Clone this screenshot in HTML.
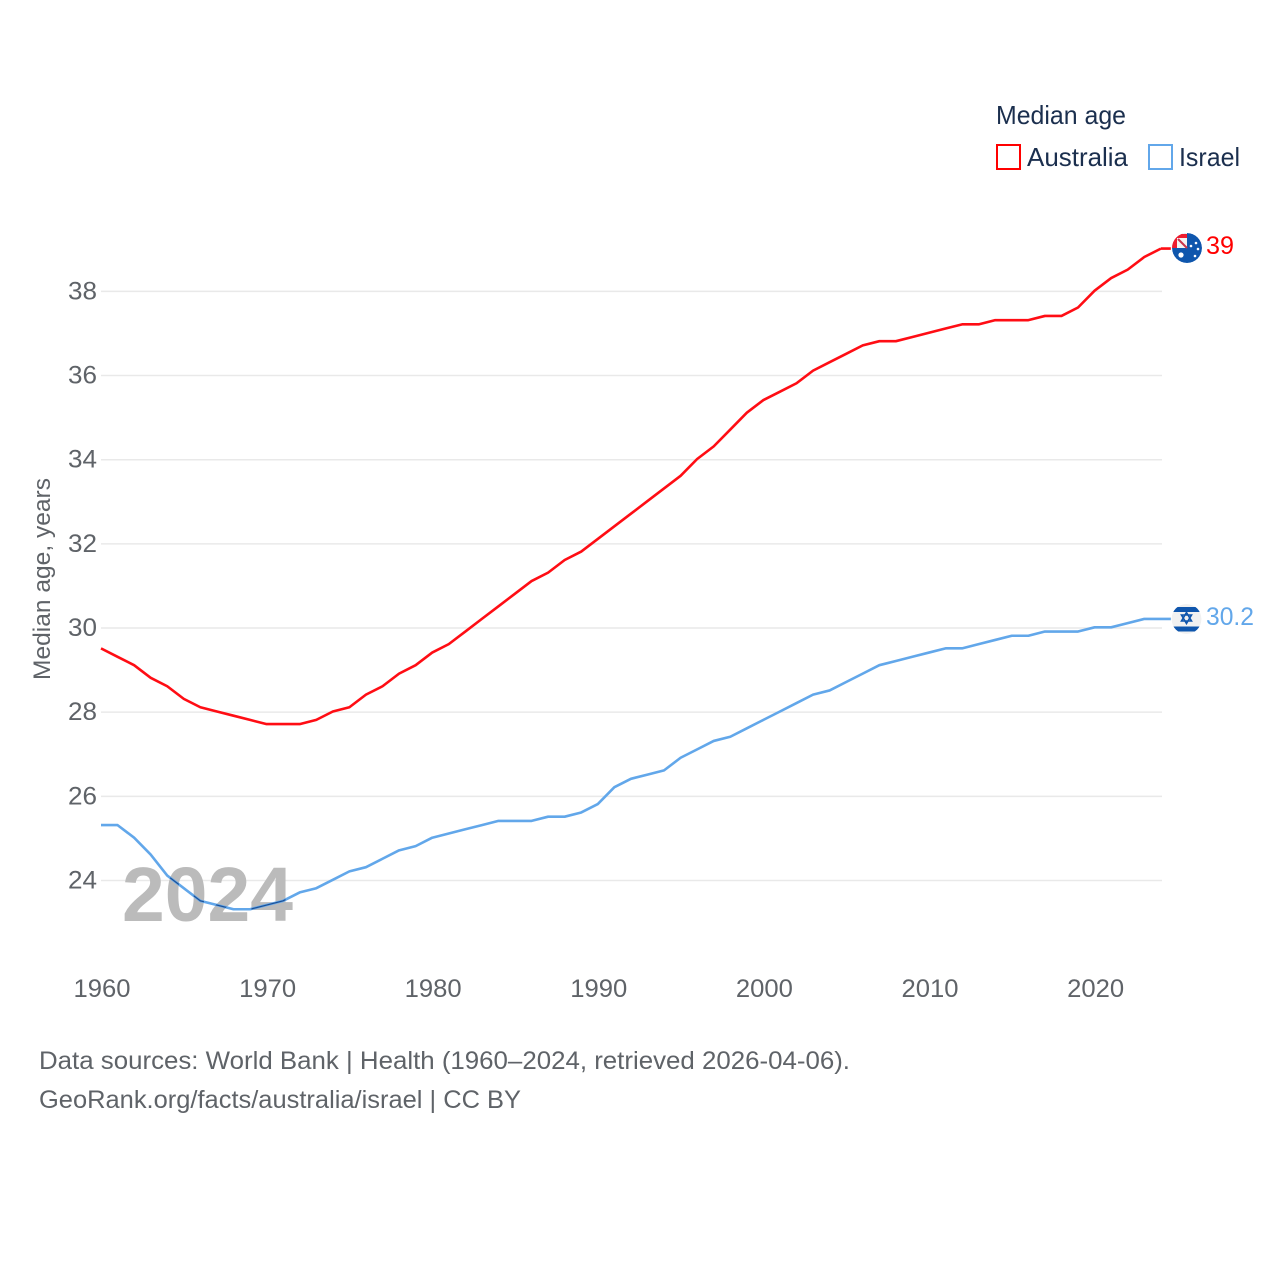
<!DOCTYPE html>
<html lang="en">
<head>
<meta charset="utf-8">
<title>Median age: Australia and Israel</title>
<style>
html,body{margin:0;padding:0;background:#fff;width:1280px;height:1280px;overflow:hidden}
svg{display:block}
text{font-family:"Liberation Sans",sans-serif}
.tick{font-size:25px;fill:#5f6368}
.foot{font-size:25px;fill:#5f6368}
.leg{font-size:26px;fill:#1b2f4e}
</style>
</head>
<body>
<svg id="chart" width="1280" height="1280" viewBox="0 0 1280 1280" xmlns="http://www.w3.org/2000/svg">
  <defs>
    <clipPath id="flag-clip-au"><circle cx="1187" cy="248" r="15"/></clipPath>
    <clipPath id="flag-clip-il"><circle cx="1186.5" cy="619" r="15"/></clipPath>
    <clipPath id="year-clip"><text x="122" y="921" font-size="77" font-weight="700" textLength="171" lengthAdjust="spacingAndGlyphs">2024</text></clipPath>
  </defs>
  <g id="grid"></g>
  <g id="yticks"></g>
  <g id="xticks"></g>
  <text x="122" y="921" font-size="77" font-weight="700" fill="#bbbbbb" textLength="171" lengthAdjust="spacingAndGlyphs">2024</text>
  <text class="tick" style="font-size:24px" transform="translate(50,579) rotate(-90)" text-anchor="middle" textLength="202" lengthAdjust="spacingAndGlyphs">Median age, years</text>
  <g id="series"></g>

  <g clip-path="url(#flag-clip-au)">
    <circle cx="1187" cy="248" r="15" fill="#0f56ad"/>
    <rect x="1172" y="233" width="15" height="15" fill="#f3f3f3"/>
    <path d="M1172 234h15v4h-10v10h-5z" fill="#ee1c2e"/>
    <path d="M1178 239l9 9" stroke="#c8354a" stroke-width="2"/>
    <circle cx="1181" cy="255" r="2.6" fill="#fff"/>
    <circle cx="1196" cy="243" r="1.3" fill="#fff"/>
    <circle cx="1191" cy="246" r="1.3" fill="#fff"/>
    <circle cx="1198" cy="249" r="1.3" fill="#fff"/>
    <circle cx="1195" cy="256" r="1.3" fill="#fff"/>
  </g>
  <g clip-path="url(#flag-clip-il)">
    <circle cx="1186.5" cy="619" r="15" fill="#f1f1f1"/>
    <rect x="1171" y="607" width="31" height="5" fill="#0f56ad"/>
    <rect x="1171" y="626.5" width="31" height="5" fill="#0f56ad"/>
    <path d="M1186.5 612.5l5 8.5h-10zM1186.5 623.5l5-8.5h-10z" fill="none" stroke="#0f56ad" stroke-width="1.6"/>
  </g>

  <text x="1206" y="254" font-size="25" fill="#ff0000" textLength="28" lengthAdjust="spacingAndGlyphs">39</text>
  <text x="1206" y="625" font-size="25" fill="#62a7ea" textLength="48" lengthAdjust="spacingAndGlyphs">30.2</text>

  <g>
    <text class="leg" x="996" y="124" textLength="130" lengthAdjust="spacingAndGlyphs">Median age</text>
    <rect x="997" y="145" width="23" height="24" fill="#fff" stroke="#ff0000" stroke-width="2"/>
    <text class="leg" x="1027" y="166" textLength="101" lengthAdjust="spacingAndGlyphs">Australia</text>
    <rect x="1149" y="145" width="23" height="24" fill="#fff" stroke="#62a7ea" stroke-width="2"/>
    <text class="leg" x="1179" y="166" textLength="61" lengthAdjust="spacingAndGlyphs">Israel</text>
  </g>

  <text class="foot" x="39" y="1069" textLength="811" lengthAdjust="spacingAndGlyphs">Data sources: World Bank | Health (1960–2024, retrieved 2026-04-06).</text>
  <text class="foot" x="39" y="1108" textLength="482" lengthAdjust="spacingAndGlyphs">GeoRank.org/facts/australia/israel | CC BY</text>
</svg>
<script>
var startYear = 1960;
var yTicks = [24, 26, 28, 30, 32, 34, 36, 38];
var xTicks = [1960, 1970, 1980, 1990, 2000, 2010, 2020];
var australia = [29.5,29.3,29.1,28.8,28.6,28.3,28.1,28.0,27.9,27.8,27.7,27.7,27.7,27.8,28.0,28.1,28.4,28.6,28.9,29.1,29.4,29.6,29.9,30.2,30.5,30.8,31.1,31.3,31.6,31.8,32.1,32.4,32.7,33.0,33.3,33.6,34.0,34.3,34.7,35.1,35.4,35.6,35.8,36.1,36.3,36.5,36.7,36.8,36.8,36.9,37.0,37.1,37.2,37.2,37.3,37.3,37.3,37.4,37.4,37.6,38.0,38.3,38.5,38.8,39.0];
var israel = [25.3,25.3,25.0,24.6,24.1,23.8,23.5,23.4,23.3,23.3,23.4,23.5,23.7,23.8,24.0,24.2,24.3,24.5,24.7,24.8,25.0,25.1,25.2,25.3,25.4,25.4,25.4,25.5,25.5,25.6,25.8,26.2,26.4,26.5,26.6,26.9,27.1,27.3,27.4,27.6,27.8,28.0,28.2,28.4,28.5,28.7,28.9,29.1,29.2,29.3,29.4,29.5,29.5,29.6,29.7,29.8,29.8,29.9,29.9,29.9,30.0,30.0,30.1,30.2,30.2];

var NS = 'http://www.w3.org/2000/svg';
function xScale(year) { return 101 + (year - 1960) * 16.56; }
function yScale(v) { return 880.5 - (v - 24) * 42.08; }
function lineY(v) { return yScale(v) - 0.7; }
function make(tag, attrs, parent) {
  var el = document.createElementNS(NS, tag);
  for (var k in attrs) el.setAttribute(k, attrs[k]);
  parent.appendChild(el);
  return el;
}
var grid = document.getElementById('grid');
var yGroup = document.getElementById('yticks');
var xGroup = document.getElementById('xticks');
var series = document.getElementById('series');

yTicks.forEach(function (t) {
  var line = make('line', {x1: 101, x2: 1162, y1: yScale(t), y2: yScale(t), stroke: '#e9e9e9', 'stroke-width': 1.5}, grid);
  
  
  var label = make('text', {x: 97, y: yScale(t) + 8, 'text-anchor': 'end', 'class': 'tick', textLength: 29, lengthAdjust: 'spacingAndGlyphs'}, yGroup);
  
  
  label.textContent = String(t);
});

xTicks.forEach(function (t) {
  var label = make('text', {x: xScale(t) + 1, y: 997, 'text-anchor': 'middle', 'class': 'tick', textLength: 57, lengthAdjust: 'spacingAndGlyphs'}, xGroup);
  
  
  label.textContent = String(t);
});

function linePath(values) {
  return values.map(function (v, i) {
    return (i ? 'L' : 'M') + xScale(startYear + i).toFixed(2) + ' ' + lineY(v).toFixed(2);
  }).join(' ');
}
function endPoint(values) {
  var last = values.length - 1;
  return 'M' + xScale(startYear + last).toFixed(2) + ' ' + lineY(values[last]).toFixed(2) + ' h10';
}

var ilPath = make('path', {d: linePath(israel) + ' ' + endPoint(israel), fill: 'none', stroke: '#62a7ea', 'stroke-width': 2.6, 'stroke-linejoin': 'round'}, series);



var ilOverlap = make('path', {d: linePath(israel), fill: 'none', stroke: '#1d4f94', 'stroke-width': 1.2, 'clip-path': 'url(#year-clip)'}, series);



var auPath = make('path', {d: linePath(australia) + ' ' + endPoint(australia), fill: 'none', stroke: '#ff0d14', 'stroke-width': 2.6, 'stroke-linejoin': 'round'}, series);


</script>
</body>
</html>
